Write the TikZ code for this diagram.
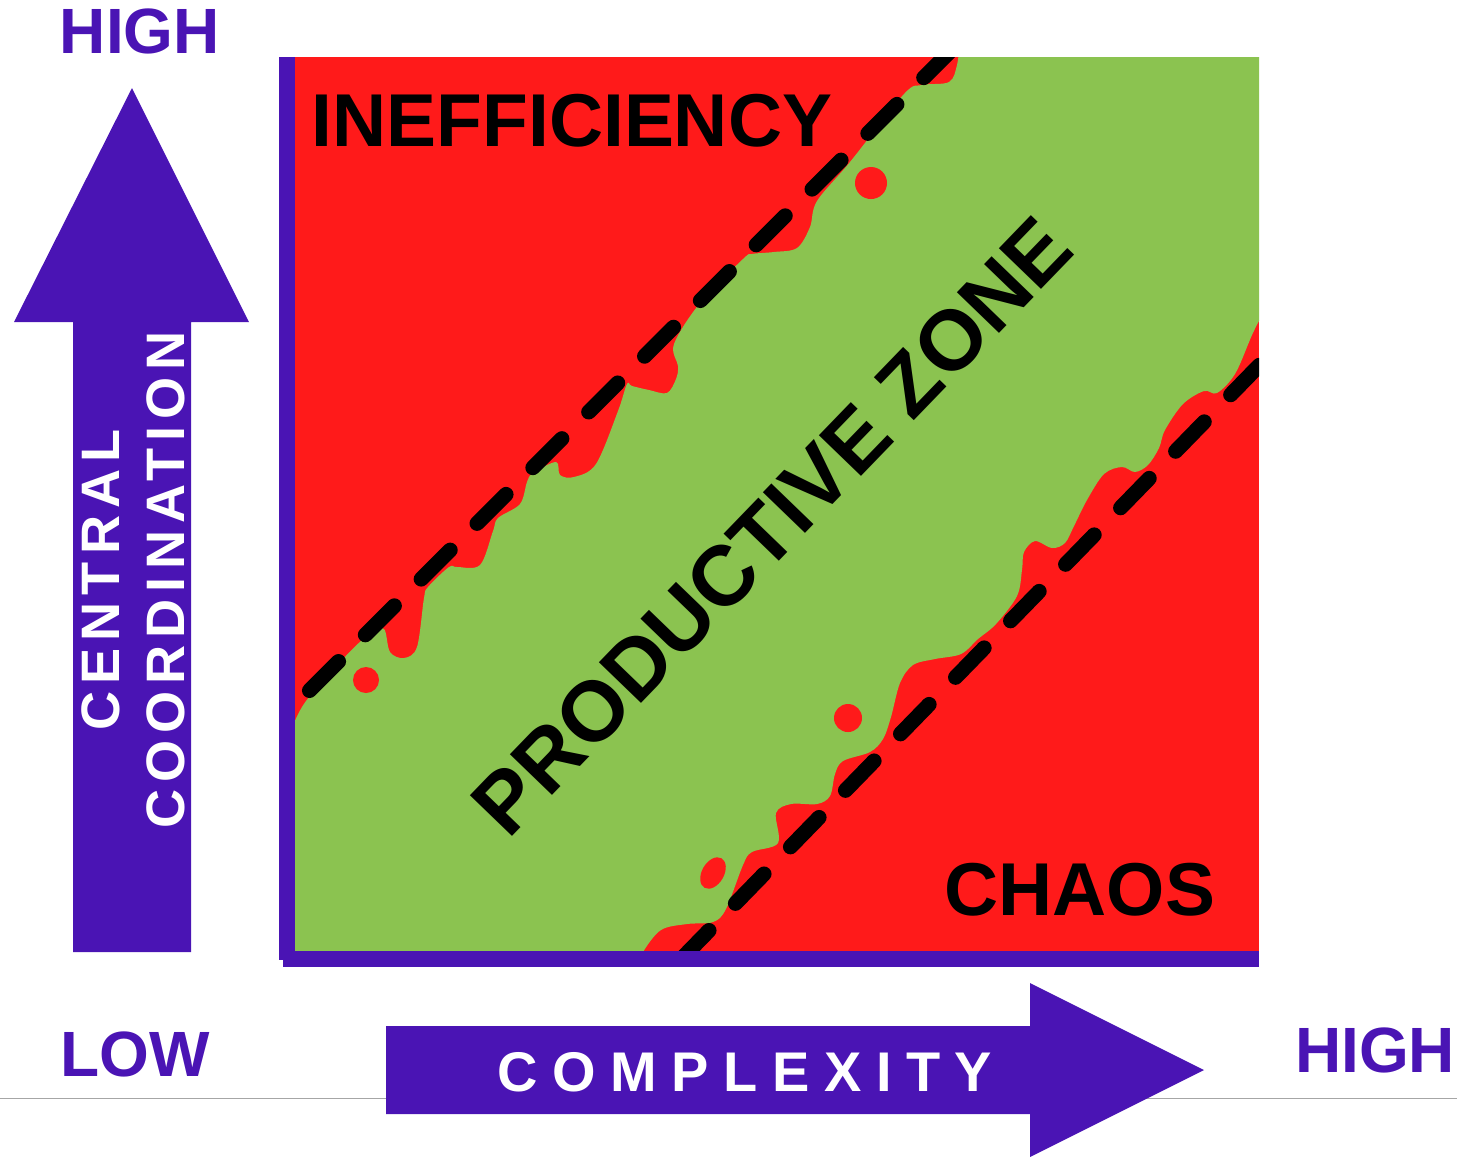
\documentclass[tikz,border=0pt]{standalone}
\usepackage{fontspec}
\setmainfont{Liberation Sans}
\usepackage{tikz}

\definecolor{axispurple}{RGB}{74,20,180}
\definecolor{zonered}{RGB}{255,26,26}
\definecolor{zonegreen}{RGB}{139,195,80}

\begin{document}
\begin{tikzpicture}[x=0.01cm, y=-0.01cm,
    endlabel/.style={font=\bfseries\fontsize{18.2}{20}\selectfont, text=axispurple, inner sep=0pt},
    zonelabel/.style={font=\bfseries\fontsize{21.3}{24}\selectfont, inner sep=0pt},
    border/.style={line width=4.27pt, dash pattern=on 11.67pt off 10.76pt, line cap=round}]
    \useasboundingbox (0,0) rectangle (1457,1156);

    % Base line
    \draw[gray!70, line width=0.3pt] (0,1098) -- (1457,1098);

    % Axis arrows
    \fill[axispurple] (73,952) -- (73,322) -- (14,322) -- (132,88) -- (249,322) -- (191,322) -- (191,952) -- cycle;
    \fill[axispurple] (386,1026) -- (1030,1026) -- (1030,983) -- (1204,1070) -- (1030,1157) -- (1030,1114) -- (386,1114) -- cycle;

    % Zones
    \begin{scope}
        \clip (294,57) rectangle (1259,952);
        \fill[zonered] (294,57) rectangle (1259,952);
        \fill[zonegreen] (960,40) -- (1280,40) -- (1280,317) -- (1261,317)
            -- plot[smooth, tension=0.55] coordinates {(1261,317) (1252,335) (1235,374) (1217,393) (1204,391) (1183,404) (1165,430) (1159,448) (1148,465) (1135,472) (1122,467) (1104,474) (1087,500) (1074,526) (1065,543) (1052,548) (1035,541) (1024,552) (1022,570) (1017,596) (996,624) (978,639) (961,654) (935,659) (913,665) (900,683) (891,717) (883,739) (870,752) (843,761) (835,774) (830,796) (817,804) (791,804) (776,813) (778,843) (752,852) (743,865) (726,909) (713,922) (687,924) (661,930) (643,952) (640,965)}
            -- (280,970) -- (280,723) -- (294,723)
            -- plot[smooth, tension=0.55] coordinates {(294,723) (306,701) (340,662) (370,633) (384,629) (390,652) (404,658) (417,647) (424,598) (428,587) (449,567) (457,567) (480,565) (493,531) (498,518) (520,504) (527,482) (533,473) (556,462) (560,475) (574,477) (596,464) (618,411) (627,384) (632,386) (649,390) (667,393) (676,379) (678,366) (674,344) (700,303) (743,259) (752,254) (774,252) (797,248) (810,227) (817,201) (850,162) (904,94) (922,85) (949,82) (957,65) (960,40)}
            -- cycle;
        \fill[zonered] (366,680) circle (0.13cm);
        \fill[zonered] (871,183) circle (0.16cm);
        \fill[zonered] (848,718) circle (0.14cm);
        \fill[zonered, rotate around={-30:(713,873)}] (713,873) ellipse (0.11cm and 0.17cm);

        % Zone borders
        \draw[border] (309.5,690.5) -- (989,12.5);
        \draw[border] (1314.3,308.8) -- (617,1025);
    \end{scope}

    % Axes
    \fill[axispurple] (279,57) rectangle (295,960);
    \fill[axispurple] (283,951) rectangle (1259,967);

    % Labels
    \node[zonelabel] (ineff) at (572,120.5) {INEFFICIENCY};
    \node[zonelabel] (chaos) at (1080,889.5) {CHAOS};
    \node[font=\bfseries\fontsize{24.2}{28}\selectfont, rotate=46, inner sep=0pt] (prod) at (772,526) {PRODUCTIVE ZONE};
    \node[endlabel] (yhigh) at (140,31) {HIGH};
    \node[endlabel] (xlow) at (135.5,1054.5) {LOW};
    \node[endlabel] (xhigh) at (1375,1050.5) {HIGH};
    \node[text=white, font=\bfseries\fontsize{15.4}{18.5}\selectfont\addfontfeature{LetterSpace=13}, rotate=90, align=center, inner sep=0pt] (yname) at (133.5,580) {CENTRAL\\COORDINATION};
    \node[text=white, font=\bfseries\fontsize{15.9}{18}\selectfont\addfontfeature{LetterSpace=26}, inner sep=0pt] (xname) at (745,1072) {COMPLEXITY};
\end{tikzpicture}
\end{document}
